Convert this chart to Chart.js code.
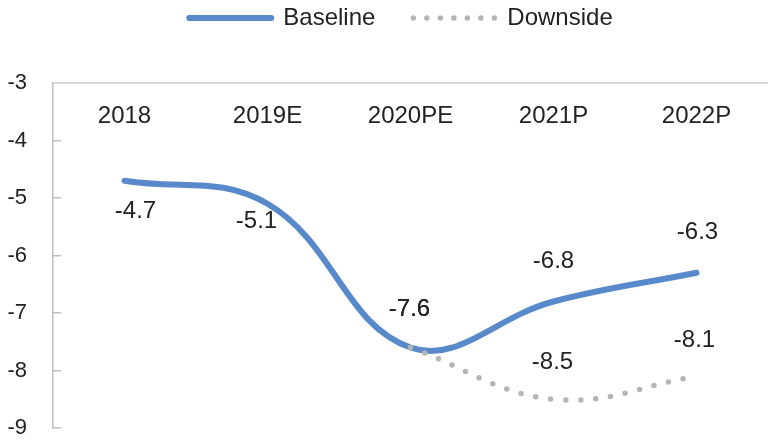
<!DOCTYPE html>
<html>
<head>
<meta charset="utf-8">
<script src="https://cdn.jsdelivr.net/npm/chart.js@4"></script>
<style>
  body { margin: 0; background: #fff; }
</style>
</head>
<body>
<canvas id="myChart" width="768" height="441"></canvas>
<script>
var categories = ['2018', '2019E', '2020PE', '2021P', '2022P'];
var baseline = [-4.7, -5.1, -7.6, -6.8, -6.3];
var downside = [null, null, -7.6, -8.5, -8.1];
var yMin = -9;
var yMax = -3;

// label offsets (px) from each point, per dataset
var labelOffsets = [
    [[11, 31], [-11, 18], [-1, -38], [0, -40], [1, -40]],
    [null, null, [-1, -38], [-1, -37], [-2, -36]]
];

var fontFamily = "'Liberation Sans', Arial, sans-serif";

// push the plot down below the legend, and centre the legend over the plot
const legendSpace = {
    id: 'legendSpace',
    beforeInit(chart) {
        const fit = chart.legend.fit;
        chart.legend.fit = function () {
            fit.call(this);
            this.height = 115;
        };
    },
    afterLayout(chart) {
        chart.legend.left = 34;
    }
};

const pointLabels = {
    id: 'pointLabels',
    afterDatasetsDraw(chart) {
        const ctx = chart.ctx;
        ctx.save();
        ctx.font = '24px ' + fontFamily;
        ctx.fillStyle = '#222';
        ctx.textAlign = 'center';
        ctx.textBaseline = 'middle';
        chart.data.datasets.forEach((ds, di) => {
            const meta = chart.getDatasetMeta(di);
            meta.data.forEach((pt, i) => {
                const off = labelOffsets[di][i];
                if (ds.data[i] === null || !off) return;
                ctx.fillText(ds.data[i].toFixed(1), pt.x + off[0], pt.y + off[1]);
            });
        });
        ctx.restore();
    }
};

const data = {
    labels: categories,
    datasets: [{
        label: 'Baseline',
        data: baseline,
        borderColor: '#588acb',
        backgroundColor: '#588acb',
        borderWidth: 6,
        borderCapStyle: 'round',
        pointRadius: 0,
        tension: 0.4,
        order: 1
    }, {
        label: 'Downside',
        data: downside,
        borderColor: '#b5b5b5',
        backgroundColor: '#b5b5b5',
        borderWidth: 5.5,
        borderDash: [0, 15],
        borderCapStyle: 'round',
        pointRadius: 0,
        tension: 0.4,
        order: 0
    }]
};

const config = {
    type: 'line',
    data: data,
    options: {
        responsive: false,
        animation: false,
        layout: { padding: { top: -32, left: 0, right: 0, bottom: 13 } },
        plugins: {
            tooltip: { enabled: false },
            legend: {
                position: 'top',
                labels: {
                    usePointStyle: true,
                    pointStyle: 'line',
                    pointStyleWidth: 82,
                    padding: 38,
                    color: '#222',
                    font: { size: 24, family: fontFamily },
                    sort: (a, b) => a.datasetIndex - b.datasetIndex,
                    generateLabels(chart) {
                        const items = Chart.defaults.plugins.legend.labels.generateLabels(chart);
                        items.forEach(it => {
                            it.lineCap = 'round';
                            if (it.datasetIndex === 1) {
                                it.lineDash = [0, 13.5];
                                it.lineWidth = 5.5;
                            }
                        });
                        return items;
                    }
                }
            }
        },
        scales: {
            x: {
                type: 'category',
                position: { y: yMax },
                offset: true,
                afterFit(scale) { scale.height = 0; },
                grid: { display: true, drawOnChartArea: false, drawTicks: false },
                border: { display: true, color: '#d9d9d9', width: 2 },
                ticks: {
                    padding: 19,
                    color: '#222',
                    font: { size: 24, family: fontFamily }
                }
            },
            y: {
                min: yMin,
                max: yMax,
                afterFit(scale) {
                    scale.width = 53;
                    scale.paddingTop = 13;
                    scale.paddingBottom = 13;
                },
                grid: {
                    drawOnChartArea: false,
                    drawTicks: true,
                    tickLength: -8,
                    color: '#bfbfbf',
                    lineWidth: 1.5
                },
                border: { display: true, color: '#bfbfbf', width: 1.5 },
                ticks: {
                    stepSize: 1,
                    padding: 34,
                    color: '#222',
                    font: { size: 22, family: fontFamily }
                }
            }
        }
    },
    plugins: [legendSpace, pointLabels]
};

const myChart = new Chart(
    document.getElementById('myChart'),
    config
);
</script>
</body>
</html>
